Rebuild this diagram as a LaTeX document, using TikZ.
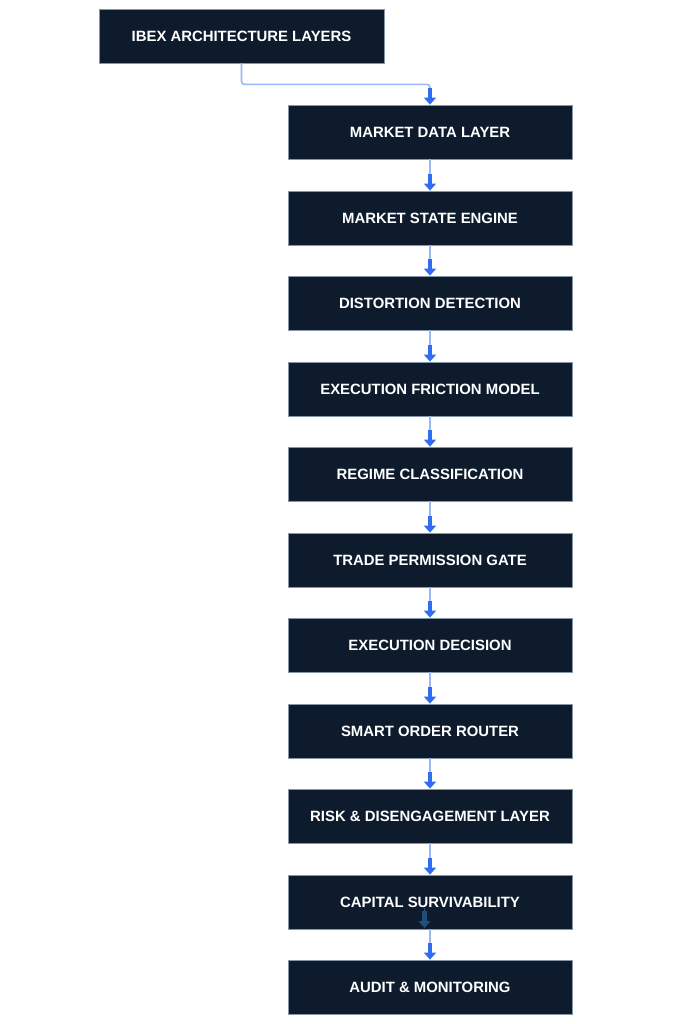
\documentclass[tikz,border=0pt]{standalone}
\usepackage{fontspec}
\setmainfont{Liberation Sans}
\usetikzlibrary{arrows.meta}
\definecolor{boxfill}{HTML}{0E1B2D}
\definecolor{boxedge}{HTML}{8595AA}
\definecolor{linkline}{HTML}{9AB8F7}
\definecolor{tipblue}{HTML}{2F6DF2}
\definecolor{darktip}{HTML}{1D4F7A}
\tikzset{
  layerbox/.style={draw=boxedge, line width=0.8pt, fill=boxfill, text=white,
    minimum width=284pt, minimum height=54pt, inner sep=0pt,
    font=\fontsize{14.9}{17}\selectfont\bfseries},
  conn/.style={draw=linkline, line width=1.6pt,
    -{Rectangle[length=10pt,width=4.4pt,color=tipblue]Triangle[length=7pt,width=12pt,color=tipblue]}},
  ghost/.style={draw=darktip, line width=0.4pt,
    -{Rectangle[length=10pt,width=4.4pt,color=darktip]Triangle[length=7pt,width=12pt,color=darktip]}}
}
\begin{document}
\begin{tikzpicture}[x=1pt,y=-1pt]
\useasboundingbox[fill=white] (0,0) rectangle (691,1024);
\node[layerbox, minimum width=285pt] (top) at (241.5,36) {IBEX ARCHITECTURE LAYERS};
\node[layerbox] (n1) at (430,132) {MARKET DATA LAYER};
\node[layerbox] (n2) at (430,218) {MARKET STATE ENGINE};
\node[layerbox] (n3) at (430,303) {DISTORTION DETECTION};
\node[layerbox] (n4) at (430,389) {EXECUTION FRICTION MODEL};
\node[layerbox] (n5) at (430,474) {REGIME CLASSIFICATION};
\node[layerbox] (n6) at (430,560) {TRADE PERMISSION GATE};
\node[layerbox] (n7) at (430,645) {EXECUTION DECISION};
\node[layerbox] (n8) at (430,731) {SMART ORDER ROUTER};
\node[layerbox] (n9) at (430,816) {RISK \& DISENGAGEMENT LAYER};
\node[layerbox] (n10) at (430,902) {CAPITAL SURVIVABILITY};
\node[layerbox] (n11) at (430,987) {AUDIT \& MONITORING};
\draw[conn, rounded corners=3pt] (top.south) -- ++(0,21) -| (n1.north);
\foreach \a/\b in {n1/n2,n2/n3,n3/n4,n4/n5,n5/n6,n6/n7,n7/n8,n8/n9,n9/n10,n10/n11}
  \draw[conn] (\a.south) -- (\b.north);
\coordinate (g1) at (424.5,908);
\coordinate (g2) at (424.5,928);
\draw[ghost] (g1) -- (g2);
\end{tikzpicture}
\end{document}
